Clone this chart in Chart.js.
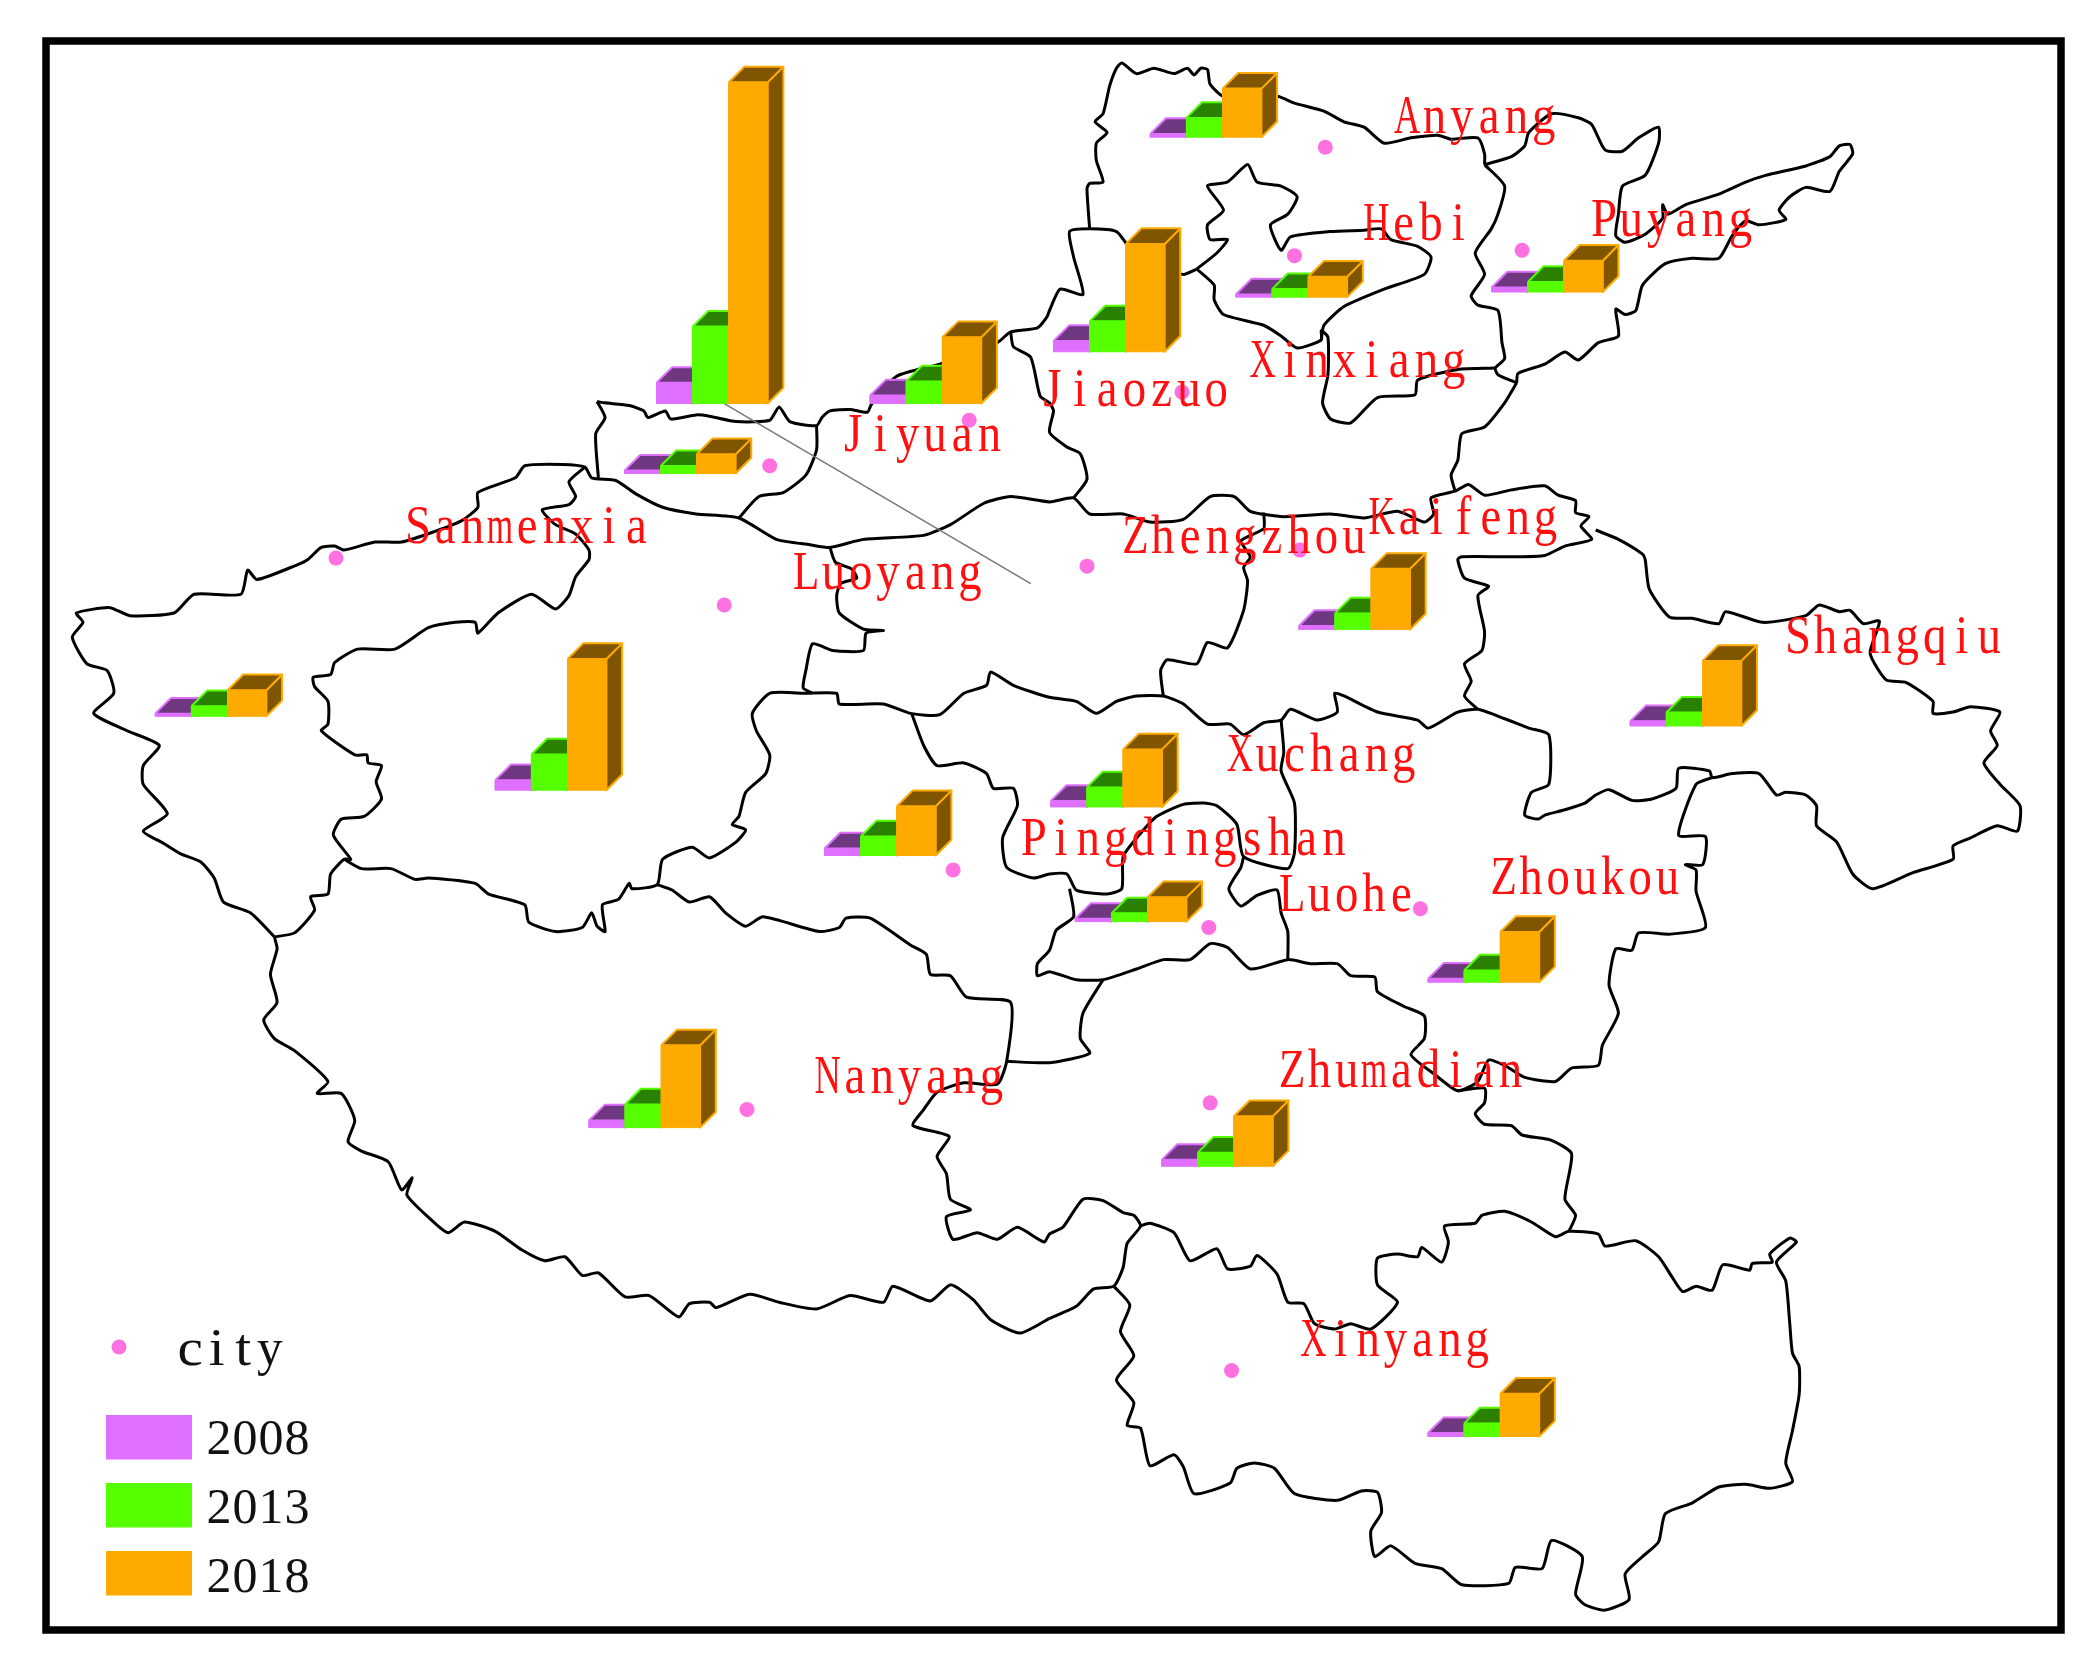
<!DOCTYPE html>
<html>
<head>
<meta charset="utf-8">
<title>Henan cities 2008 2013 2018</title>
<script src="https://cdn.jsdelivr.net/npm/chart.js@4/dist/chart.umd.min.js"></script>
<style>
body { margin: 0; background: #fff; }
canvas { display: block; filter: blur(0.6px); }
</style>
</head>
<body>
<canvas id="carte" width="2099" height="1669"></canvas>
<script>
// bar groups, one line per group
var groupes = ["Zhengzhou", "Jiaozuo", "Luoyang", "Jiyuan", "Sanmenxia-Nord", "Anyang", "Hebi", "Puyang", "Kaifeng",
    "Shangqiu", "Sanmenxia", "Xuchang", "Pingdingshan", "Lushi", "Zhoukou", "Nanyang", "Zhumadian", "Xinyang"];
var annees = ["2008", "2013", "2018"];
var valeurs2008 = [15.5, 8, 7.5, 6, 2.2, 2.4, 2, 3.4, 2.6, 3.5, 2, 4.5, 2.1, 5.3, 2.6, 5.3, 4.8, 2.6];
var valeurs2013 = [57.5, 22.7, 26.7, 16.5, 5.6, 14.4, 6, 7.5, 12, 10, 7.5, 14.6, 6.2, 14.2, 8.8, 17.3, 10.2, 9.8];
var valeurs2018 = [240, 80.5, 98, 49.5, 14.4, 36.3, 15.2, 23.4, 45.3, 48.6, 19.5, 43, 18.2, 36.8, 37.6, 61.5, 37.4, 32];
var pieds = [[490.5, 301.5], [787, 262.8], [370, 590.4], [650, 301.5], [466.5, 353.8], [859.3, 102.5], [923.3, 222],
    [1114.3, 218.2], [970.3, 470.3], [1217.8, 542.4], [116, 535.2], [785, 602.9], [803.3, 688.6], [616, 639.2],
    [1066.8, 733.9], [440, 842.5], [867.8, 871.4], [1066.8, 1073.3]];

// cities
var villes = ["Anyang", "Hebi", "Puyang", "Xinxiang", "Jiaozuo", "Jiyuan", "Sanmenxia", "Luoyang", "Zhengzhou", "Kaifeng",
    "Shangqiu", "Xuchang", "Pingdingshan", "Luohe", "Zhoukou", "Nanyang", "Zhumadian", "Xinyang"];
var posVilles = [[1041, 99], [1018, 179], [1188, 176], [933, 282], [776, 303], [627, 337], [302, 405.5], [592, 440], [838, 413],
    [1022, 399], [1333, 488], [916, 576], [762, 639], [955, 681], [1113, 668], [608, 817], [955, 812], [971, 1013]];
var points_villes = [[990, 110], [967, 191], [1137, 187], [883, 293], [724, 314], [575, 348], [251, 417], [541, 452], [812, 423],
    [971, 411], [712, 650], [903, 693], [1061, 679], [558, 829], [904, 824], [920, 1024]];

// thin line from the big bars to their city
var renvoi = [[535, 298], [770, 436]];

// boundaries
var nordJiyuan = [[446,300],[452,301],[470,303],[481,307],[484,312],[497,307],[501,313],[520,310],[530,311],[550,315],[575,314],[582,304],[590,315],[610,318],[614,312],[620,307],[635,306],[648,308],[651,302],[670,281],[702,272],[745,256],[755,248],[775,245],[782,237],[784,232],[792,216],[809,220],[802,192],[799,173],[814,171],[834,173],[843,184],[860,200],[884,205],[894,201]];
var estJiaozuo = [[755,248],[757,259],[770,267],[777,296],[784,301],[787,307],[784,323],[797,334],[807,339],[812,358],[802,372]];
var ouestJiyuan = [[446,300],[452,312],[445,324],[447,357]];
var estJiyuan = [[610,318],[610,336],[602,355],[585,368],[567,371],[552,387]];
var anyangOuest = [[814,171],[812,141],[814,137],[824,136],[819,120],[819,107],[827,99],[818,91],[824,85],[829,64],[834,51],[838,47],[849,55],[862,51],[877,55],[887,51],[892,56],[897,51],[902,52],[904,63],[914,72],[954,72],[967,77],[989,83],[1004,91],[1019,95],[1034,107],[1054,103],[1074,101],[1084,104],[1104,103],[1109,115],[1109,123]];
var puyangTour = [[1109,123],[1129,117],[1139,109],[1142,99],[1159,85],[1179,88],[1189,93],[1199,112],[1212,113],[1224,103],[1239,95],[1239,107],[1229,131],[1212,139],[1209,160],[1207,176],[1214,181],[1229,175],[1242,163],[1242,153],[1246,160],[1259,153],[1284,145],[1304,136],[1319,131],[1349,124],[1367,117],[1374,109],[1382,108],[1384,115],[1374,128],[1367,143],[1349,140],[1337,147],[1329,157],[1334,164],[1314,168],[1304,165],[1294,176],[1284,193],[1264,193],[1244,197],[1227,213],[1222,232],[1214,235],[1207,231],[1209,251],[1194,256],[1179,269],[1169,263],[1154,272],[1134,279],[1133,286]];
var puyangOuest = [[1109,123],[1124,139],[1119,160],[1114,171],[1102,189],[1109,205],[1099,221],[1104,228],[1119,232],[1122,256],[1124,268],[1117,275],[1119,280],[1133,286]];
var xinxiangSud = [[1117,275],[1089,276],[1059,284],[1057,295],[1029,297],[1009,316],[994,313],[988,301],[992,280],[992,252],[987,247],[987,254],[969,260],[957,251],[944,243],[914,235],[907,224],[907,213],[894,201]];
var hebiTour = [[894,201],[909,189],[917,179],[904,179],[902,168],[914,157],[902,139],[917,136],[932,123],[939,136],[957,139],[969,147],[962,160],[949,168],[957,187],[964,177],[994,173],[1019,172],[1032,171],[1039,179],[1059,184],[1069,192],[1064,205],[1034,216],[1004,229],[989,243],[987,254]];
var estZhengzhouNord = [[1133,286],[1124,301],[1109,319],[1092,324],[1089,344],[1084,355],[1087,367]];
var sudSanmenxia = [[205,700],[187,682],[167,674],[160,656],[150,644],[135,638],[122,630],[107,621],[125,608],[107,586],[107,572],[119,557],[95,546],[70,533],[85,518],[80,501],[65,496],[54,476],[62,465],[57,458],[82,454],[97,460],[130,458],[145,444],[180,444],[185,426],[192,433],[222,422],[230,418],[240,409],[250,408],[257,411],[280,405],[300,405],[325,397],[345,389],[357,379],[357,368],[385,357],[392,348],[420,347],[437,349],[442,357],[460,359],[475,369],[495,379],[520,384],[552,387],[580,403],[605,407],[620,409],[645,403],[690,400],[710,392],[735,376],[755,371],[784,375],[802,372],[814,384],[839,384],[859,390],[884,388],[904,371],[922,371],[934,382],[959,386],[994,384],[1019,387],[1044,382],[1064,390],[1071,384],[1069,372],[1087,367],[1097,362],[1109,370],[1129,366],[1154,363],[1164,370],[1177,374],[1177,383],[1187,386],[1181,393],[1189,403],[1169,408],[1154,415],[1129,416],[1092,416],[1089,418],[1094,432],[1112,438],[1104,445],[1109,472],[1107,486],[1094,496],[1099,509],[1094,520],[1104,530]];
var shangqiuNord = [[1192,396],[1209,403],[1227,414],[1229,418],[1232,440],[1247,461],[1264,462],[1284,466],[1289,457],[1317,465],[1349,460],[1359,452],[1374,457],[1382,456],[1392,466],[1404,464],[1397,488],[1409,508],[1424,510],[1444,524],[1444,533],[1459,532],[1472,528],[1494,532],[1487,546],[1492,557],[1482,570],[1494,586],[1509,602],[1507,621],[1492,617],[1472,626],[1459,632],[1459,642],[1429,652],[1399,664],[1384,653],[1372,629],[1357,617],[1357,602],[1349,594],[1334,592],[1327,594],[1314,578],[1294,578],[1279,581],[1277,576],[1254,574],[1252,589],[1234,597],[1219,598],[1202,590],[1192,594],[1184,600],[1169,605],[1154,609],[1149,612],[1139,609],[1144,592],[1157,586],[1157,549],[1142,544],[1124,537],[1104,530],[1089,532],[1067,544],[1059,538],[1029,532],[1004,520],[997,518],[999,532],[984,538],[964,530],[957,538],[944,540],[929,549],[919,541],[902,541],[884,526],[869,520],[849,520],[834,524],[819,533],[804,524],[784,521],[757,512],[740,502],[737,512],[720,518],[702,534],[680,533],[660,526],[627,526],[625,518],[602,518],[575,518],[562,533],[565,546],[575,564],[572,578],[557,592],[552,610],[547,616],[557,620],[550,629],[530,641],[517,633],[495,642],[491,661],[472,664],[470,660],[462,672],[450,676],[452,696],[446,692],[442,682],[435,693],[415,696],[395,689],[392,676],[365,668],[355,660],[320,656],[310,657],[292,649],[270,649],[257,642]];
var zhengzhouEst = [[869,520],[867,501],[872,493],[894,496],[902,480],[917,484],[929,456],[932,434],[929,424],[934,416],[927,404],[944,395],[944,383]];
var xuchangOuest = [[957,538],[959,562],[957,576],[967,600],[967,637],[962,649],[929,640],[924,616],[909,602],[899,600],[884,601],[864,610],[850,625],[839,640],[838,664],[827,668],[804,665],[797,653],[784,653],[772,656],[752,648],[749,626],[760,602],[757,589],[742,589],[737,578],[720,570],[700,572],[690,557],[681,533]];
var luoheTour = [[929,640],[927,648],[918,664],[927,677],[939,669],[954,665],[957,682],[962,696],[962,717]];
var pingdingshanSud = [[799,664],[802,685],[789,695],[784,710],[775,720],[775,729],[784,726],[804,732],[824,732],[849,724],[869,717],[889,717],[904,705],[917,708],[934,724],[962,717],[979,720],[999,720],[1009,729],[1027,730],[1029,741],[1049,752],[1064,759],[1064,776],[1054,788],[1072,803],[1089,815],[1104,808],[1112,792],[1124,796],[1139,805],[1162,808],[1174,798],[1194,796],[1197,781],[1209,757],[1202,736],[1207,709],[1219,710],[1224,697],[1247,698],[1274,693],[1267,666],[1267,650],[1259,646],[1272,646],[1274,625],[1254,624],[1267,586],[1279,581]];
var nanyangNord = [[491,661],[502,665],[515,674],[530,670],[542,682],[557,692],[570,685],[612,696],[627,693],[632,686],[650,686],[680,706],[692,713],[695,728],[710,729],[722,745],[755,749],[752,793],[745,810],[720,809],[700,816],[690,829],[682,841],[709,849],[700,864],[707,877],[710,896],[725,904],[707,909],[712,926],[730,921],[745,926],[760,917],[780,928],[784,922],[794,917],[809,896],[824,897],[839,906],[847,908],[852,916],[842,929],[839,947],[832,961],[817,963],[804,976],[784,985]];
var zhumadianOuest = [[752,793],[784,794],[814,787],[807,776],[809,757],[824,732]];
var nanyangSud = [[205,700],[207,709],[202,728],[207,749],[197,762],[205,776],[220,785],[245,808],[237,817],[255,817],[265,837],[260,853],[270,860],[290,868],[300,889],[308,880],[304,893],[325,914],[335,921],[347,913],[370,920],[390,934],[407,942],[422,939],[435,953],[447,951],[467,969],[485,968],[507,984],[515,974],[530,973],[535,977],[560,967],[582,973],[610,978],[635,968],[660,973],[667,961],[695,972],[710,960],[727,971],[740,986],[762,996],[784,985]];
var luoyangOuest = [[437,349],[425,360],[430,371],[425,377],[405,381],[415,392],[430,399],[440,411],[440,418],[430,431],[425,445],[415,455],[397,444],[372,458],[357,473],[355,465],[340,465],[320,469],[295,485],[267,485],[250,495],[247,504],[234,506],[235,513],[245,524],[245,541],[240,546],[265,564],[274,564],[275,570],[285,572],[281,584],[285,597],[272,610],[255,612],[249,624],[262,642],[257,642],[247,653],[245,668],[232,670],[235,680],[220,697],[205,700]];
var luoyangEst = [[620,409],[624,420],[636,425],[640,432],[628,436],[625,445],[627,458],[645,470],[660,471],[647,473],[645,486],[622,486],[607,481],[602,501],[600,514],[607,518]];
var xinyangTour = [[852,916],[859,914],[877,921],[889,942],[909,933],[917,948],[934,946],[939,938],[954,952],[962,973],[974,974],[982,989],[997,993],[1009,989],[1024,993],[1044,973],[1029,960],[1029,940],[1044,937],[1059,939],[1062,932],[1077,943],[1082,928],[1079,916],[1102,914],[1107,908],[1124,905],[1144,913],[1162,924],[1172,920],[1194,922],[1199,931],[1222,927],[1239,939],[1249,954],[1257,965],[1267,961],[1279,964],[1287,945],[1307,949],[1309,944],[1324,943],[1322,937],[1337,925],[1342,928],[1327,943],[1334,957],[1337,989],[1339,1011],[1344,1021],[1344,1042],[1339,1069],[1334,1093],[1339,1107],[1322,1112],[1304,1109],[1284,1111],[1264,1123],[1244,1131],[1239,1152],[1227,1163],[1214,1176],[1217,1195],[1199,1203],[1184,1199],[1177,1191],[1182,1163],[1159,1151],[1152,1172],[1132,1171],[1127,1183],[1092,1184],[1077,1172],[1057,1168],[1039,1155],[1027,1163],[1024,1144],[1032,1130],[1029,1115],[1017,1114],[999,1121],[967,1116],[952,1097],[937,1093],[924,1097],[919,1108],[892,1116],[884,1096],[877,1087],[859,1095],[852,1067],[842,1065],[847,1048],[834,1031],[847,1013],[837,995],[844,975],[832,961]];
var zhumadianEst = [[1089,815],[1109,813],[1109,824],[1102,832],[1109,840],[1129,841],[1137,848],[1159,852],[1174,862],[1169,896],[1177,908],[1172,920]];

var limites = [nordJiyuan, estJiaozuo, ouestJiyuan, estJiyuan, anyangOuest, puyangTour, puyangOuest, xinxiangSud, hebiTour,
    estZhengzhouNord, sudSanmenxia, shangqiuNord, zhengzhouEst, xuchangOuest, luoheTour, pingdingshanSud, nanyangNord,
    zhumadianOuest, nanyangSud, luoyangOuest, luoyangEst, xinyangTour, zhumadianEst];

var couleurs = ["#DF70FF", "#55FF00", "#FFAA00"];
var couleursSombres = ["#6E3780", "#2A8000", "#7F5500"];
var largeurs = [27, 27, 29];
var profondeur = 11.7;
var ROSE = "#FF70E0";

function versPoints(liste)
{
    return liste.map(function(p) { return {x: p[0], y: p[1]}; });
}

// one filled face of a bar
function face(coins, remplissage, bord, epaisseur)
{
    coins.push(coins[0]);
    return {
        data: versPoints(coins),
        showLine: true,
        fill: "shape",
        backgroundColor: remplissage,
        borderColor: bord,
        borderWidth: epaisseur,
        borderJoinStyle: "round",
        pointRadius: 0,
        tension: 0
    };
}

var jeux = [];

for (var i in limites) {
    jeux.push({
        data: versPoints(limites[i]),
        showLine: true,
        borderColor: "#000",
        borderWidth: 3,
        borderJoinStyle: "round",
        pointRadius: 0,
        tension: 0.2
    });
}

jeux.push({
    data: versPoints(renvoi),
    showLine: true,
    borderColor: "#777",
    borderWidth: 1.5,
    pointRadius: 0
});

jeux.push({
    data: versPoints(points_villes),
    showLine: false,
    pointRadius: 7.5,
    pointBackgroundColor: ROSE,
    pointBorderWidth: 0
});

// the bars, left to right in each group so the next one covers the last
var series = [valeurs2008, valeurs2013, valeurs2018];
for (var g = 0; g < groupes.length; g++) {
    var x0 = pieds[g][0];
    var base = pieds[g][1];
    for (var s = 0; s < annees.length; s++) {
        var h = series[s][g];
        var x1 = x0 + largeurs[s];
        var haut = base - h;
        jeux.push(face([[x1, base], [x1 + profondeur, base - profondeur], [x1 + profondeur, haut - profondeur], [x1, haut]], couleursSombres[s], couleurs[s], 2));
        jeux.push(face([[x0, haut], [x1, haut], [x1 + profondeur, haut - profondeur], [x0 + profondeur, haut - profondeur]], couleursSombres[s], couleurs[s], 2));
        jeux.push(face([[x0, base], [x1, base], [x1, haut], [x0, haut]], couleurs[s], couleurs[s], 1));
        x0 = x1;
    }
}

// chart.js draws the first dataset last
jeux.reverse();

// text one letter per cell, like the narrow latin of the original font
function texteCases(ctx, texte, x, y, pas, taille, echelle, couleur)
{
    ctx.save();
    ctx.fillStyle = couleur;
    ctx.font = taille + 'px "Liberation Serif"';
    ctx.textAlign = "center";
    ctx.textBaseline = "alphabetic";
    for (var i = 0; i < texte.length; i++) {
        var largeur = ctx.measureText(texte[i]).width;
        var e = Math.min(echelle, (pas - 1) / largeur);
        ctx.save();
        ctx.translate(x + pas * (i + 0.5), y);
        ctx.scale(e, 1);
        ctx.fillText(texte[i], 0, 0);
        ctx.restore();
    }
    ctx.restore();
}

var cadre = {
    id: "cadre",
    beforeDraw: function(chart) {
        var ctx = chart.ctx;
        ctx.save();
        ctx.fillStyle = "#fff";
        ctx.fillRect(0, 0, chart.width, chart.height);
        ctx.strokeStyle = "#000";
        ctx.lineWidth = 7.5;
        ctx.strokeRect(46, 41, 2015, 1589);
        ctx.restore();
    }
};

var textes = {
    id: "textes",
    afterDatasetsDraw: function(chart) {
        var ctx = chart.ctx;
        var sx = chart.scales.x;
        var sy = chart.scales.y;
        for (var i = 0; i < villes.length; i++) {
            texteCases(ctx, villes[i], sx.getPixelForValue(posVilles[i][0]), sy.getPixelForValue(posVilles[i][1]), 27.3, 55, 0.85, "#FF1010");
        }
        // legend
        ctx.save();
        ctx.fillStyle = ROSE;
        ctx.beginPath();
        ctx.arc(119, 1347, 7.5, 0, Math.PI * 2);
        ctx.fill();
        ctx.restore();
        texteCases(ctx, "city", 177, 1365, 26.5, 52, 1.1, "#111");
        var hauts = [1415, 1483, 1551];
        var lignes = [1454, 1523, 1592];
        for (var k = 0; k < annees.length; k++) {
            ctx.fillStyle = couleurs[k];
            ctx.fillRect(106, hauts[k], 86, 44.5);
            texteCases(ctx, annees[k], 206, lignes[k], 26, 50, 1.05, "#111");
        }
    }
};

var carte = new Chart(document.getElementById("carte"), {
    type: "scatter",
    data: { datasets: jeux },
    options: {
        responsive: false,
        devicePixelRatio: 1,
        animation: false,
        layout: { padding: 0, autoPadding: false },
        plugins: { legend: { display: false }, tooltip: { enabled: false } },
        scales: {
            x: { type: "linear", min: 0, max: 1568, display: false },
            y: { type: "linear", min: 0, max: 1247, reverse: true, display: false }
        }
    },
    plugins: [cadre, textes]
});
</script>
</body>
</html>
